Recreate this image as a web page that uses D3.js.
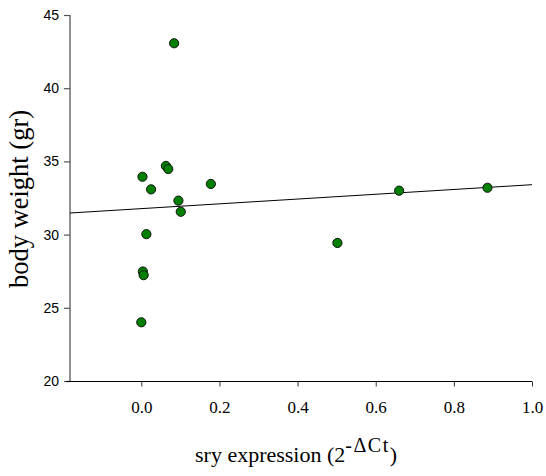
<!DOCTYPE html>
<html>
<head>
<meta charset="utf-8">
<script src="https://cdn.jsdelivr.net/npm/d3@7"></script>
<style>
  html, body { margin: 0; padding: 0; background: #fff; }
  svg { display: block; }
  .serif { font-family: "Liberation Serif", "Times New Roman", Times, serif; }
  .sans { font-family: "Liberation Sans", Arial, Helvetica, sans-serif; }
</style>
</head>
<body>
<svg id="chart" width="546" height="476"></svg>
<script>
// sry expression (2^-ΔCt) per animal
const sryExpression = [0.084, 0.003, 0.063, 0.069, 0.025, 0.095, 0.101, 0.178, 0.013, 0.004, 0.006, 0.000, 0.502, 0.660, 0.886];
// body weight (gr) per animal
const bodyWeight = [43.07, 33.95, 34.69, 34.48, 33.09, 32.32, 31.56, 33.46, 30.03, 27.48, 27.23, 24.01, 29.43, 33.00, 33.20];

const xTicks = [0.0, 0.2, 0.4, 0.6, 0.8, 1.0];
const yTicks = [20, 25, 30, 35, 40, 45];
const xDomain = [-0.1825, 1.0];
const yDomain = [20, 45];

const svg = d3.select("#chart");

const x = d3.scaleLinear().domain(xDomain).range([70, 532]);
const y = d3.scaleLinear().domain(yDomain).range([381, 15]);

// least-squares fit of weight on expression
const n = sryExpression.length;
const mx = d3.mean(sryExpression), my = d3.mean(bodyWeight);
let sxy = 0, sxx = 0;
for (let i = 0; i < n; i++) {
  sxy += (sryExpression[i] - mx) * (bodyWeight[i] - my);
  sxx += (sryExpression[i] - mx) ** 2;
}
const slope = sxy / sxx;
const intercept = my - slope * mx;

// y axis
const yAxis = d3.axisLeft(y).tickValues(yTicks).tickSize(6).tickPadding(5).tickFormat(d3.format("d"));
const gy = svg.append("g").attr("transform", "translate(70,0)").call(yAxis);
gy.attr("font-family", null).attr("font-size", null);
gy.select(".domain").attr("d", `M0,${y(45)}V${y(20)}`).attr("stroke", "#555").attr("stroke-width", 1.3);
gy.selectAll(".tick line").attr("stroke", "#555").attr("stroke-width", 1.2);
gy.selectAll(".tick text")
  .attr("class", "sans")
  .style("font-size", "14px")
  .attr("fill", "#000");

// x axis
const xAxis = d3.axisBottom(x).tickValues(xTicks).tickSize(5).tickPadding(14).tickFormat(d3.format(".1f"));
const gx = svg.append("g").attr("transform", "translate(0,381.5)").call(xAxis);
gx.attr("font-family", null).attr("font-size", null);
gx.select(".domain").attr("d", `M66,0H${x(1.0)}`).attr("stroke", "#000").attr("stroke-width", 1);
gx.selectAll(".tick line").attr("stroke", "#333");
gx.selectAll(".tick text")
  .attr("class", "serif")
  .style("font-size", "17px")
  .attr("fill", "#000");

// regression line
svg.append("line")
  .attr("x1", x(xDomain[0])).attr("y1", y(intercept + slope * xDomain[0]))
  .attr("x2", x(xDomain[1])).attr("y2", y(intercept + slope * xDomain[1]))
  .attr("stroke", "#000").attr("stroke-width", 1);

// data points
svg.append("g").selectAll("circle")
  .data(d3.range(n))
  .join("circle")
  .attr("cx", i => x(sryExpression[i]))
  .attr("cy", i => y(bodyWeight[i]))
  .attr("r", 4.6)
  .attr("fill", "#007f00")
  .attr("stroke", "#111")
  .attr("stroke-width", 1);

// axis titles
svg.append("text")
  .attr("class", "serif")
  .attr("transform", "translate(28,199) rotate(-90)")
  .attr("text-anchor", "middle")
  .style("font-size", "26.5px")
  .text("body weight (gr)");

const xt = svg.append("text")
  .attr("class", "serif")
  .attr("x", 195).attr("y", 462)
  .style("font-size", "22px");
xt.append("tspan").text("sry expression (2");
xt.append("tspan").attr("dy", -10).style("font-size", "20px").style("letter-spacing", "1.5px").text("-ΔCt");
xt.append("tspan").attr("dy", 10).text(")");
</script>
</body>
</html>
